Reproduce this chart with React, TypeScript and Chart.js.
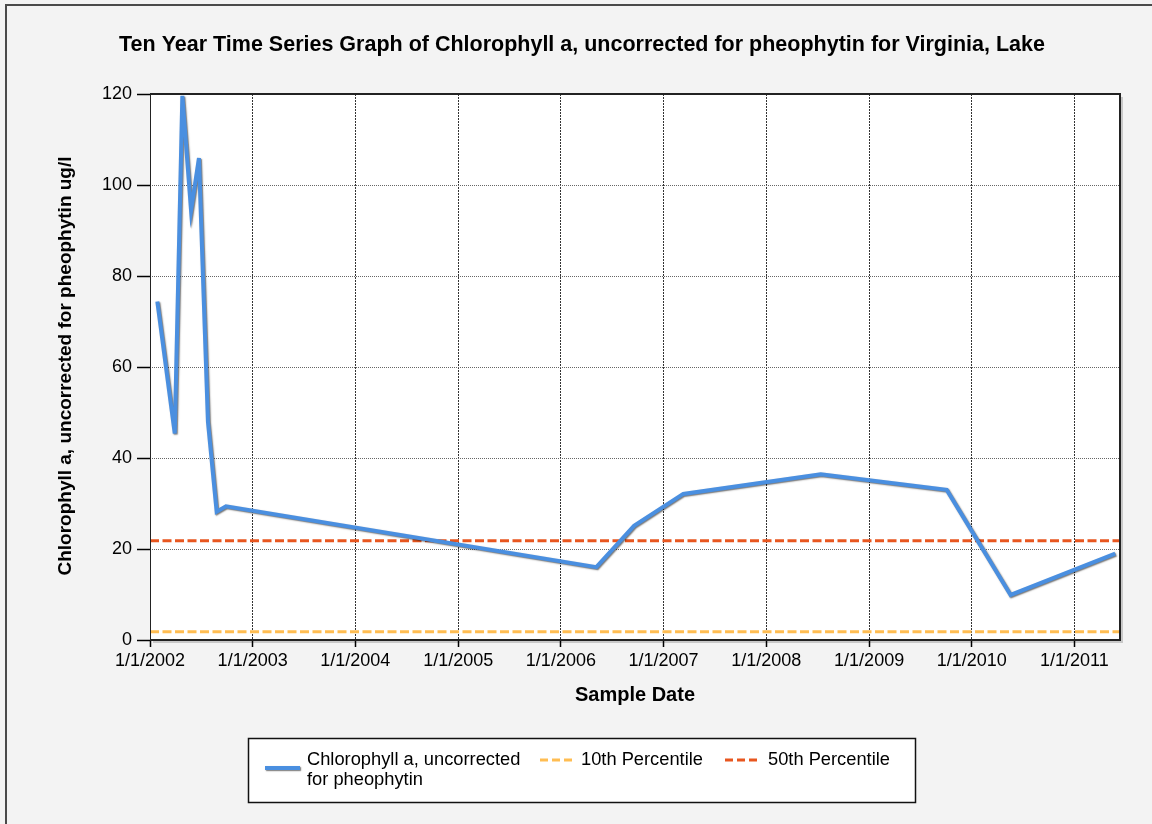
import React, { useEffect, useRef } from "react";
import { Chart, registerables } from "chart.js";

Chart.register(...registerables);

// ---- data ----
const SAMPLE_DATES = [
  "2002-01-27", "2002-03-30", "2002-04-26", "2002-05-27", "2002-06-24",
  "2002-07-26", "2002-08-26", "2002-09-28", "2006-05-07", "2006-09-18",
  "2007-03-12", "2008-07-13", "2009-10-04", "2010-05-19", "2011-05-26",
];
const CHLOROPHYLL_VALUES = [
  74.4, 45.4, 119.6, 94.4, 105.9, 48.0, 28.2, 29.4, 16.0, 25.1, 32.1, 36.4, 33.0, 9.9, 19.0,
];
const PERCENTILE_10 = 1.8;
const PERCENTILE_50 = 21.8;
const X_START = "2002-01-01";
const X_END = "2011-06-12";
const YEAR_TICKS = [2002, 2003, 2004, 2005, 2006, 2007, 2008, 2009, 2010, 2011];
const Y_MIN = 0;
const Y_MAX = 120;
const Y_STEP = 20;

const TITLE = "Ten Year Time Series Graph of Chlorophyll a, uncorrected for pheophytin for Virginia, Lake";
const X_TITLE = "Sample Date";
const Y_TITLE = "Chlorophyll a, uncorrected for pheophytin ug/l";
const SERIES_LABEL = "Chlorophyll a, uncorrected for pheophytin";
const SERIES_LEGEND_LINES = ["Chlorophyll a, uncorrected", "for pheophytin"];
const P10_LABEL = "10th Percentile";
const P50_LABEL = "50th Percentile";

const COLOR_SERIES = "#4a8fe0";
const COLOR_P10 = "#ffbd52";
const COLOR_P50 = "#e8561f";
const FONT = '"Liberation Sans", Arial, sans-serif';

const toMs = (s: string) => Date.parse(s + "T00:00:00Z");

const decorPlugin = {
  id: "decor",
  beforeDraw(chart: any) {
    const { ctx, chartArea: a, width, height } = chart;
    ctx.save();
    ctx.fillStyle = "#f3f3f3";
    ctx.fillRect(0, 0, width, height);
    // outer frame (left/top)
    ctx.strokeStyle = "#4a4a4a";
    ctx.lineWidth = 2;
    ctx.beginPath();
    ctx.moveTo(6, height);
    ctx.lineTo(6, 5);
    ctx.lineTo(width, 5);
    ctx.stroke();
    // plot shadow
    ctx.fillStyle = "#c8c8c8";
    ctx.fillRect(a.left + 3, a.top + 3, a.right - a.left, a.bottom - a.top);
    ctx.fillStyle = "#ffffff";
    ctx.fillRect(a.left, a.top, a.right - a.left, a.bottom - a.top);
    ctx.restore();
  },
  beforeDatasetDraw(chart: any, args: any) {
    if (args.index === 0) {
      const ctx = chart.ctx;
      ctx.save();
      ctx.shadowColor = "rgba(0,0,0,0.55)";
      ctx.shadowOffsetX = 1;
      ctx.shadowOffsetY = 1;
      ctx.shadowBlur = 1.5;
    }
  },
  afterDatasetDraw(chart: any, args: any) {
    if (args.index === 0) chart.ctx.restore();
  },
  afterDraw(chart: any) {
    const { ctx, chartArea: a } = chart;
    ctx.save();
    // plot frame
    ctx.strokeStyle = "#222";
    ctx.lineWidth = 2;
    ctx.beginPath();
    ctx.moveTo(a.left, a.top);
    ctx.lineTo(a.right, a.top);
    ctx.lineTo(a.right, a.bottom);
    ctx.lineTo(a.left, a.bottom);
    ctx.stroke();
    ctx.lineWidth = 1;
    ctx.beginPath();
    ctx.moveTo(a.left + 0.5, a.top);
    ctx.lineTo(a.left + 0.5, a.bottom);
    ctx.stroke();

    // title
    ctx.fillStyle = "#000";
    ctx.textAlign = "center";
    ctx.textBaseline = "alphabetic";
    ctx.font = `bold 21.5px ${FONT}`;
    ctx.fillText(TITLE, 582, 51);
    // x title
    ctx.font = `bold 20px ${FONT}`;
    ctx.fillText(X_TITLE, (a.left + a.right) / 2, 701);
    // y title
    ctx.save();
    ctx.translate(66, (a.top + a.bottom) / 2 - 1);
    ctx.rotate(-Math.PI / 2);
    ctx.font = `bold 19px ${FONT}`;
    ctx.textBaseline = "middle";
    ctx.fillText(Y_TITLE, 0, 0);
    ctx.restore();

    // legend
    const bx = 248, by = 738, bw = 667, bh = 64;
    ctx.fillStyle = "#fff";
    ctx.fillRect(bx, by, bw, bh);
    ctx.strokeStyle = "#111";
    ctx.lineWidth = 1.5;
    ctx.strokeRect(bx + 0.5, by + 0.5, bw, bh);

    const ds = chart.data.datasets;
    // series sample
    ctx.save();
    ctx.shadowColor = "rgba(0,0,0,0.55)";
    ctx.shadowOffsetX = 1;
    ctx.shadowOffsetY = 1;
    ctx.shadowBlur = 1.5;
    ctx.strokeStyle = ds[0].borderColor;
    ctx.lineWidth = 4;
    ctx.beginPath();
    ctx.moveTo(265, 768);
    ctx.lineTo(300, 768);
    ctx.stroke();
    ctx.restore();

    ctx.fillStyle = "#000";
    ctx.textAlign = "left";
    ctx.textBaseline = "middle";
    ctx.font = `18.3px ${FONT}`;
    ctx.fillText(SERIES_LEGEND_LINES[0], 307, 760);
    ctx.fillText(SERIES_LEGEND_LINES[1], 307, 780);

    const dashed = (x0: number, x1: number, color: string) => {
      ctx.save();
      ctx.strokeStyle = color;
      ctx.lineWidth = 3;
      ctx.setLineDash([8, 4]);
      ctx.beginPath();
      ctx.moveTo(x0, 760);
      ctx.lineTo(x1, 760);
      ctx.stroke();
      ctx.restore();
    };
    dashed(540, 572, ds[1].borderColor);
    ctx.fillText(ds[1].label, 581, 760);
    dashed(725, 757, ds[2].borderColor);
    ctx.fillText(ds[2].label, 768, 760);
    ctx.restore();
  },
};

export default function App() {
  const ref = useRef<HTMLCanvasElement | null>(null);

  useEffect(() => {
    document.body.style.margin = "0";
    const xMin = toMs(X_START);
    const xMax = toMs(X_END);
    const series = SAMPLE_DATES.map((d, i) => ({ x: toMs(d), y: CHLOROPHYLL_VALUES[i] }));
    const chart = new Chart(ref.current as HTMLCanvasElement, {
      type: "line",
      data: {
        datasets: [
          {
            label: SERIES_LABEL,
            data: series,
            borderColor: COLOR_SERIES,
            borderWidth: 4,
            pointRadius: 0,
            tension: 0,
            fill: false,
          },
          {
            label: P10_LABEL,
            data: [{ x: xMin, y: PERCENTILE_10 }, { x: xMax, y: PERCENTILE_10 }],
            borderColor: COLOR_P10,
            borderWidth: 3,
            borderDash: [9, 3.5],
            pointRadius: 0,
            fill: false,
          },
          {
            label: P50_LABEL,
            data: [{ x: xMin, y: PERCENTILE_50 }, { x: xMax, y: PERCENTILE_50 }],
            borderColor: COLOR_P50,
            borderWidth: 3,
            borderDash: [9, 3.5],
            pointRadius: 0,
            fill: false,
          },
        ],
      },
      options: {
        animation: false,
        responsive: true,
        maintainAspectRatio: false,
        layout: { padding: { left: 0, right: 32, top: 94, bottom: 0 } },
        plugins: {
          legend: { display: false },
          title: { display: false },
          tooltip: { enabled: false },
        },
        scales: {
          x: {
            type: "linear",
            min: xMin,
            max: xMax,
            afterFit(scale: any) {
              scale.height = 184;
            },
            afterBuildTicks(scale: any) {
              scale.ticks = YEAR_TICKS.map((y) => ({ value: Date.UTC(y, 0, 1) }));
            },
            grid: {
              color: "#333",
              lineWidth: 1,
              drawTicks: true,
              tickLength: 7,
              tickColor: "#000",
              tickWidth: 1.5,
              tickBorderDash: [],
            },
            border: { display: false, dash: [2, 1] },
            ticks: {
              autoSkip: false,
              maxRotation: 0,
              padding: 3,
              color: "#000",
              font: { family: FONT, size: 18 },
              callback: (v: any) => `1/1/${new Date(v).getUTCFullYear()}`,
            },
          },
          y: {
            min: Y_MIN,
            max: Y_MAX,
            afterFit(scale: any) {
              scale.width = 150;
            },
            grid: {
              color: "#666",
              lineWidth: 1,
              drawTicks: true,
              tickLength: 13,
              tickColor: "#000",
              tickWidth: 1.5,
              tickBorderDash: [],
            },
            border: { display: false, dash: [1, 1] },
            ticks: {
              stepSize: Y_STEP,
              padding: 5,
              color: "#000",
              font: { family: FONT, size: 18 },
            },
          },
        },
      },
      plugins: [decorPlugin],
    } as any);
    return () => chart.destroy();
  }, []);

  return (
    <div style={{ position: "absolute", left: 0, top: 0, width: 1152, height: 824 }}>
      <canvas ref={ref} />
    </div>
  );
}
